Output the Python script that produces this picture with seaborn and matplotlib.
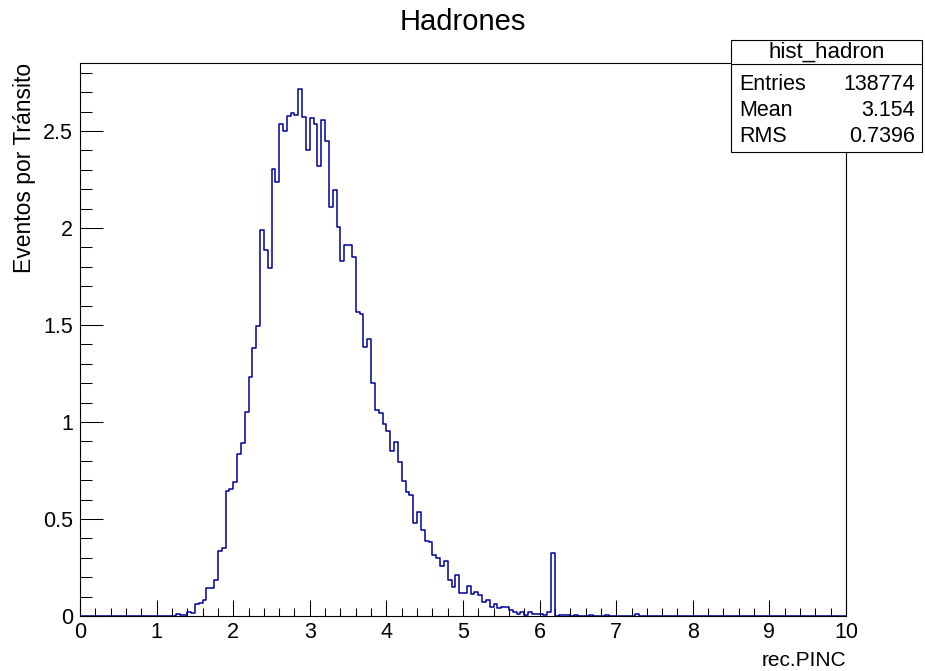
import numpy as np
import pandas as pd
import matplotlib
matplotlib.use("Agg")
import matplotlib.pyplot as plt
import seaborn as sns
from matplotlib.ticker import MultipleLocator, FuncFormatter
from matplotlib.patches import Rectangle
from matplotlib.lines import Line2D

sns.set_style("ticks")
plt.rcParams['font.family'] = ['Liberation Sans', 'DejaVu Sans']
plt.rcParams['text.color'] = 'black'
plt.rcParams['axes.labelcolor'] = 'black'
plt.rcParams['xtick.color'] = 'black'
plt.rcParams['ytick.color'] = 'black'

# ---- texts ----
title = "Hadrones"
x_label = "rec.PINC"
y_label = "Eventos por Tránsito"
hist_name = "hist_hadron"
stat_names = ["Entries", "Mean", "RMS"]
stat_values = ["138774", "3.154", "0.7396"]

# ---- histogram definition ----
x_min, x_max, n_bins = 0.0, 10.0, 200
y_max = 2.85
first_bin = 25  # index of the first listed bin (x = 1.25)
heights = [
    0.008, 0.004, 0.004, 0.021, 0.013, 0.060, 0.066, 0.084, 0.143, 0.143,   # 25-34
    0.185, 0.336, 0.350, 0.642, 0.652, 0.690, 0.833, 0.892, 1.052, 1.234,   # 35-44
    1.380, 1.492, 1.988, 1.886, 1.795, 2.302, 2.238, 2.538, 2.502, 2.576,   # 45-54
    2.590, 2.583, 2.716, 2.571, 2.400, 2.566, 2.536, 2.317, 2.557, 2.447,   # 55-64
    2.108, 2.195, 2.007, 1.832, 1.913, 1.910, 1.850, 1.565, 1.556, 1.386,   # 65-74
    1.427, 1.201, 1.061, 1.048, 0.988, 0.952, 0.849, 0.897, 0.794, 0.694,   # 75-84
    0.637, 0.625, 0.480, 0.538, 0.442, 0.387, 0.381, 0.312, 0.297, 0.260,   # 85-94
    0.283, 0.188, 0.152, 0.209, 0.118, 0.118, 0.153, 0.112, 0.126, 0.109,   # 95-104
    0.072, 0.081, 0.047, 0.064, 0.040, 0.045, 0.045, 0.029, 0.022, 0.012,   # 105-114
    0.021, 0.004, 0.019, 0.012, 0.009, 0.009, 0.007, 0.021, 0.325, 0.000,   # 115-124
    0.003, 0.003, 0.007, 0.000, 0.003, 0.000, 0.000, 0.000, 0.005, 0.000,   # 125-134
    0.000, 0.000, 0.005, 0.000, 0.000, 0.000, 0.000, 0.000, 0.000, 0.000,   # 135-144
    0.009,                                                                   # 145
]

bin_width = (x_max - x_min) / n_bins
centers = x_min + (np.arange(first_bin, first_bin + len(heights)) + 0.5) * bin_width
df = pd.DataFrame({"x": centers, "w": heights})

W, H = 925, 671
fig = plt.figure(figsize=(W / 100, H / 100), dpi=100)
fig.patch.set_facecolor("white")
ax = fig.add_axes([80 / W, 55 / H, 766 / W, 553 / H])

sns.histplot(data=df, x="x", weights="w", bins=n_bins, binrange=(x_min, x_max),
             element="step", fill=False, color="#000099", linewidth=1.1, ax=ax)

ax.set_xlim(x_min, x_max)
ax.set_ylim(0, y_max)
ax.xaxis.set_major_locator(MultipleLocator(1))
ax.xaxis.set_minor_locator(MultipleLocator(0.2))
ax.yaxis.set_major_locator(MultipleLocator(0.5))
ax.yaxis.set_minor_locator(MultipleLocator(0.1))
fmt = FuncFormatter(lambda v, p: "%g" % v)
ax.xaxis.set_major_formatter(fmt)
ax.yaxis.set_major_formatter(fmt)

for s in ax.spines.values():
    s.set_visible(True)
    s.set_linewidth(0.8)
    s.set_color("black")

ax.tick_params(axis="x", which="major", direction="in", length=11.5, width=0.75,
               labelsize=15.5, pad=4, top=False, colors="black")
ax.tick_params(axis="x", which="minor", direction="in", length=5.8, width=0.75, top=False,
               colors="black")
ax.tick_params(axis="y", which="major", direction="in", length=16.5, width=0.75,
               labelsize=15.5, pad=5, right=False, colors="black")
ax.tick_params(axis="y", which="minor", direction="in", length=8.3, width=0.75, right=False,
               colors="black")

ax.set_xlabel(x_label, fontsize=15, loc="right", labelpad=6, color="black")
ax.set_ylabel(y_label, fontsize=16.5, loc="top", labelpad=5, color="black")
fig.text(463 / W, 1 - 22 / H, title, fontsize=21, ha="center", va="center", color="black")

# ---- stats box ----
def fx(px):
    return px / W

def fy(py):
    return 1 - py / H

bx0, bx1, by0, by1, bsep = 731, 922, 40, 152, 64
fig.add_artist(Rectangle((fx(bx0), fy(by1)), fx(bx1) - fx(bx0), fy(by0) - fy(by1),
                         transform=fig.transFigure, facecolor="white",
                         edgecolor="black", linewidth=0.8, zorder=10))
fig.add_artist(Line2D([fx(bx0), fx(bx1)], [fy(bsep), fy(bsep)],
                      transform=fig.transFigure, color="black", linewidth=0.8, zorder=11))
fig.text(fx((bx0 + bx1) / 2), fy(52), hist_name, fontsize=16, ha="center", va="center",
         zorder=12, color="black")
row_y = [85, 111, 137]
for name, val, yy in zip(stat_names, stat_values, row_y):
    fig.text(fx(739), fy(yy), name, fontsize=15.5, ha="left", va="center", zorder=12,
             color="black")
    fig.text(fx(915), fy(yy), val, fontsize=15.5, ha="right", va="center", zorder=12,
             color="black")

fig.savefig("out.png", dpi=100, facecolor="white")
